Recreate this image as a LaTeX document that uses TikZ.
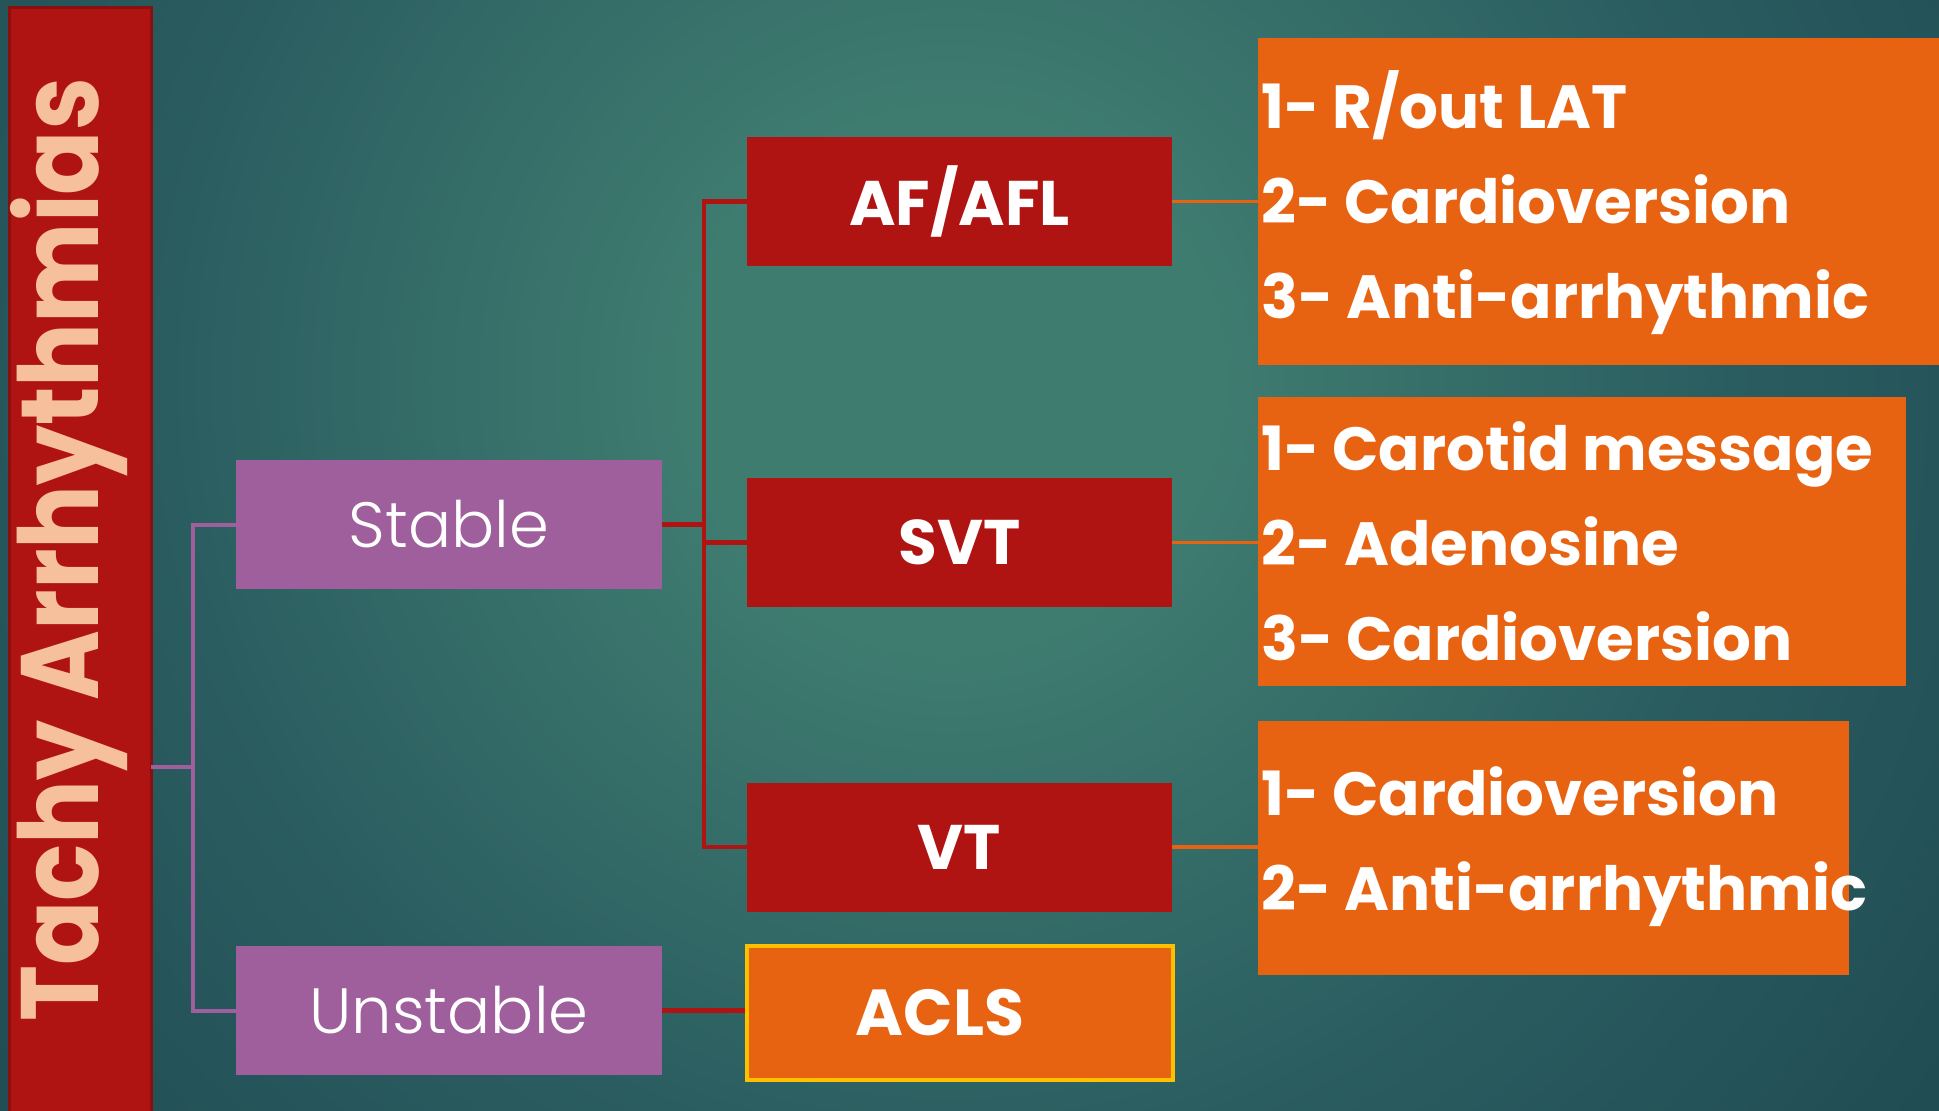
\documentclass[tikz,border=0pt]{standalone}
\usepackage{fontspec}
\setmainfont{Poppins}
\newfontfamily\lightfont{Poppins}[UprightFont=* Light]
\usetikzlibrary{calc}

\definecolor{bgA}{HTML}{3F7C70}
\definecolor{bgM}{HTML}{2A5D60}
\definecolor{bgB}{HTML}{173D48}
\definecolor{barred}{HTML}{B01412}
\definecolor{bardark}{HTML}{8A0F0F}
\definecolor{peach}{HTML}{F7C09C}
\definecolor{plum}{HTML}{9E5F9C}
\definecolor{orng}{HTML}{E86311}
\definecolor{gold}{HTML}{FFC000}

\pgfdeclareradialshading{glow}{\pgfpoint{0bp}{0bp}}{color(0bp)=(bgA); color(5bp)=(bgA); color(15bp)=(bgM); color(31bp)=(bgB); color(50bp)=(bgB)}

\newlength\titlelen
\newcommand\titletext{\fontsize{110}{120}\selectfont\bfseries Tachy Arrhythmias}

\begin{document}
\settowidth\titlelen{\titletext}
\pgfmathsetmacro\titlesx{944pt/\titlelen}
\begin{tikzpicture}[x=1pt,y=-1pt,
  card/.style={rectangle, inner sep=0pt, minimum height=129pt, text=white},
  plumbox/.style={card, fill=plum, minimum width=426pt, font=\lightfont\fontsize{64}{80}\selectfont},
  redbox/.style={card, fill=barred, minimum width=425pt, font=\fontsize{63}{80}\selectfont\bfseries},
  orangebox/.style={rectangle, inner sep=0pt, fill=orng, anchor=north west},
  listtext/.style={inner sep=0pt, anchor=west, align=left, text=white,
                   font=\fontsize{61}{95}\selectfont\bfseries},
  redline/.style={draw=barred, line width=4.5pt},
  plumline/.style={draw=plum, line width=4pt},
  orangeline/.style={draw=orng, line width=3.5pt}]

\useasboundingbox (0,0) rectangle (1939,1111);

% background glow
\begin{scope}
  \clip (0,0) rectangle (1939,1111);
  \fill[bgB] (0,0) rectangle (1939,1111);
  \shade[shading=glow] (-350,-920) rectangle (2250,1680);
\end{scope}

% title bar
\node[rectangle, inner sep=0pt, fill=barred, draw=bardark, line width=3pt,
      minimum width=142pt, minimum height=1125pt, anchor=north west] (bar) at (7.5,5.5) {};
\node[rotate=90, anchor=base west, inner sep=0pt, text=peach] (title) at (98,1022)
  {\scalebox{\titlesx}[1]{\titletext}};

% second level
\node[plumbox] (stable) at (449,524.5) {Stable};
\node[plumbox] (unstable) at (449,1010.5) {Unstable};

% third level
\node[redbox] (afl) at (959.5,201.5) {AF/AFL};
\node[redbox] (svt) at (959.5,542.5) {SVT};
\node[redbox] (vt)  at (959.5,847) {VT};
\node[rectangle, inner sep=0pt, fill=orng, draw=gold, line width=3.5pt,
      minimum width=426pt, minimum height=134pt] (acls) at (960,1013) {};
\node[text=white, inner sep=0pt, font=\fontsize{65}{80}\selectfont\bfseries]
  (aclslabel) at (940,1013) {ACLS};

% treatment lists
\node[orangebox, minimum width=700pt, minimum height=327pt] (o1) at (1258,38) {};
\node[orangebox, minimum width=648pt, minimum height=289pt] (o2) at (1258,397) {};
\node[orangebox, minimum width=591pt, minimum height=254pt] (o3) at (1258,721) {};
\node[listtext] (l1) at ($(o1.west)+(3,1)$) {1- R/out LAT\\2- Cardioversion\\3- Anti-arrhythmic};
\node[listtext] (l2) at ($(o2.west)+(3,0)$) {1- Carotid message\\2- Adenosine\\3- Cardioversion};
\node[listtext] (l3) at ($(o3.west)+(3,-2)$) {1- Cardioversion\\2- Anti-arrhythmic};

% connectors
\coordinate (pbus) at (193,0);
\coordinate (rbus) at (704,0);
\coordinate (barport) at (151,767);

\draw[plumline] (barport) -- (barport -| pbus);
\draw[plumline] (stable.west) -- (stable.west -| pbus) -- (unstable.west -| pbus) -- (unstable.west);

\draw[redline] (stable.east) -- (stable.east -| rbus);
\draw[redline] (afl.west) -- (afl.west -| rbus) |- (vt.west);
\draw[redline] (svt.west) -- (svt.west -| rbus);
\draw[redline] (unstable.east) -- (unstable.east -| acls.west);

\draw[orangeline] (afl.east) -- (afl.east -| o1.west);
\draw[orangeline] (svt.east) -- (svt.east -| o2.west);
\draw[orangeline] (vt.east) -- (vt.east -| o3.west);
\end{tikzpicture}
\end{document}
